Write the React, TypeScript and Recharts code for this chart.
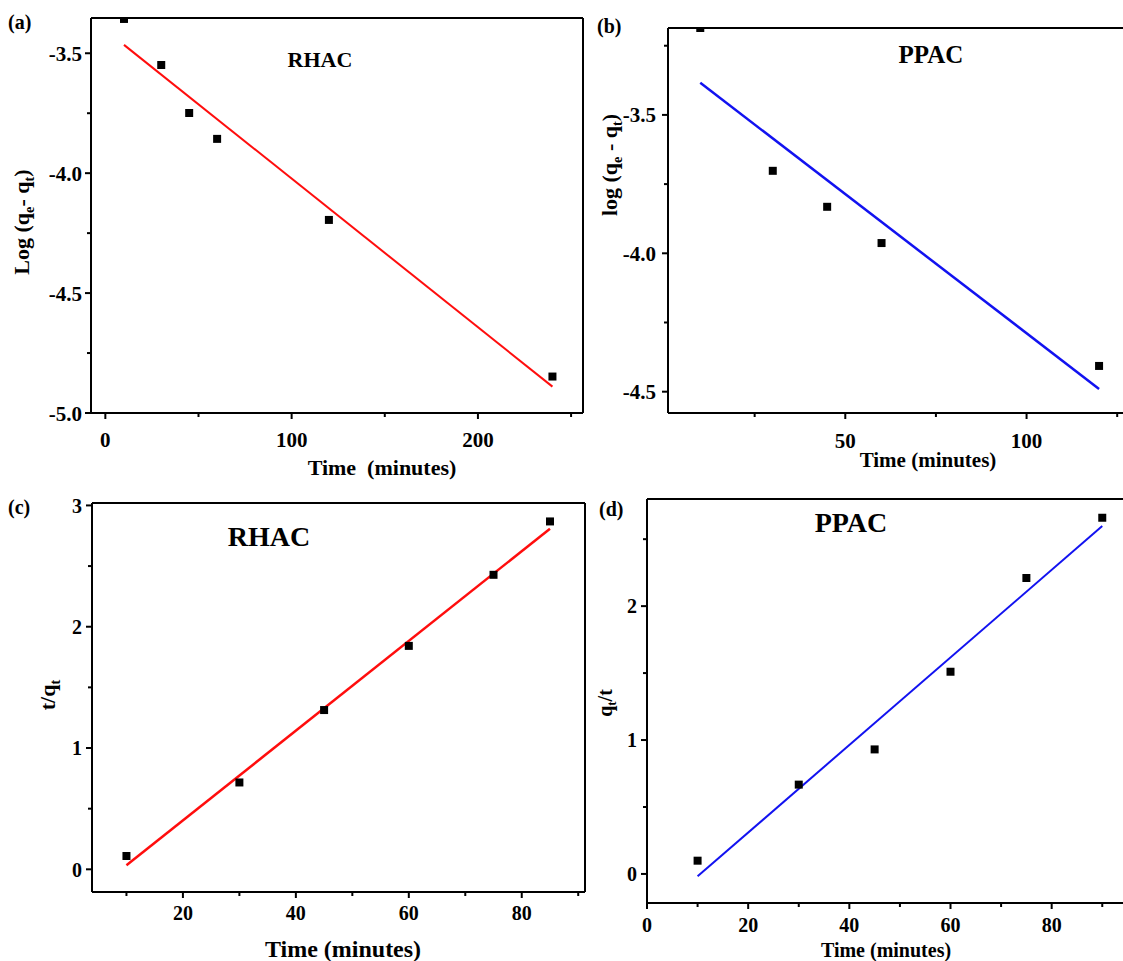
import React from 'react';
import { ScatterChart, Scatter, XAxis, YAxis, ReferenceLine } from 'recharts';

const FONT = '"Liberation Serif", "Times New Roman", serif';

// ---------- Panel (a): pseudo-first-order, RHAC ----------
const aTime = [10, 30, 45, 60, 120, 240];
const aLog = [-3.357, -3.549, -3.749, -3.857, -4.195, -4.848];
const aFitTime = [10, 240];
const aFitLog = [-3.465, -4.89];
const aXTicks = [0, 50, 100, 150, 200, 250];
const aXLabels = [0, 100, 200];
const aYTicks = [-3.5, -3.75, -4.0, -4.25, -4.5, -4.75, -5.0];
const aYLabels = [-3.5, -4.0, -4.5, -5.0];

// ---------- Panel (b): pseudo-first-order, PPAC ----------
const bTime = [10, 30, 45, 60, 120];
const bLog = [-3.186, -3.702, -3.832, -3.963, -4.407];
const bFitTime = [10, 120];
const bFitLog = [-3.384, -4.49];
const bXTicks = [25, 50, 75, 100, 125];
const bXLabels = [50, 100];
const bYTicks = [-3.25, -3.5, -3.75, -4.0, -4.25, -4.5];
const bYLabels = [-3.5, -4.0, -4.5];

// ---------- Panel (c): pseudo-second-order, RHAC ----------
const cTime = [10, 30, 45, 60, 75, 85];
const cVal = [0.11, 0.716, 1.313, 1.842, 2.428, 2.868];
const cFitTime = [10, 85];
const cFitVal = [0.033, 2.808];
const cXTicks = [10, 20, 30, 40, 50, 60, 70, 80, 90];
const cXLabels = [20, 40, 60, 80];
const cYTicks = [0, 0.5, 1, 1.5, 2, 2.5, 3];
const cYLabels = [0, 1, 2, 3];

// ---------- Panel (d): pseudo-second-order, PPAC ----------
const dTime = [10, 30, 45, 60, 75, 90];
const dVal = [0.099, 0.667, 0.93, 1.51, 2.21, 2.66];
const dFitTime = [10, 90];
const dFitVal = [-0.018, 2.598];
const dXTicks = [0, 10, 20, 30, 40, 50, 60, 70, 80, 90];
const dXLabels = [0, 20, 40, 60, 80];
const dYTicks = [0, 0.5, 1, 1.5, 2, 2.5];
const dYLabels = [0, 1, 2];

const zip = (xs: number[], ys: number[]) => xs.map((x, i) => ({ x, y: ys[i] }));

type PanelProps = {
  L: number; T: number; R: number; B: number;
  yAxisW: number; xAxisH: number;
  xDomain: [number, number]; yDomain: [number, number];
  xTicks: number[]; xLabels: number[]; yTicks: number[]; yLabels: number[];
  fmtX: (v: number) => string; fmtY: (v: number) => string;
  pts: { x: number; y: number }[]; fit: { x: number; y: number }[];
  color: string; lineW: number; fs: number; xGap: number; yGap: number;
  rightBorder: boolean; rightTicks?: number[];
};

const near = (arr: number[], v: number) => arr.some((a) => Math.abs(a - v) < 1e-9);

function Panel(p: PanelProps) {
  const mt = 10;
  const mr = p.rightBorder ? 10 : 0;
  const boxW = p.R - p.L;
  const boxH = p.B - p.T;
  const width = p.yAxisW + boxW + mr;
  const height = mt + boxH + p.xAxisH;

  const xTick = (props: any) => {
    const { x, y, payload } = props;
    const major = near(p.xLabels, payload.value);
    const len = major ? 6 : 4;
    return (
      <g>
        <line x1={x} x2={x} y1={y} y2={y + len} stroke="#000" strokeWidth={2} />
        {major && (
          <text x={x} y={y + p.xGap} textAnchor="middle" fontFamily={FONT} fontWeight="bold" fontSize={p.fs} fill="#000">
            {p.fmtX(payload.value)}
          </text>
        )}
      </g>
    );
  };
  const yTick = (props: any) => {
    const { x, y, payload } = props;
    const major = near(p.yLabels, payload.value);
    const len = major ? 6 : 4;
    return (
      <g>
        <line x1={x} x2={x - len} y1={y} y2={y} stroke="#000" strokeWidth={2} />
        {major && (
          <text x={x - p.yGap} y={y} dy="0.36em" textAnchor="end" fontFamily={FONT} fontWeight="bold" fontSize={p.fs} fill="#000">
            {p.fmtY(payload.value)}
          </text>
        )}
      </g>
    );
  };
  const rTick = (props: any) => {
    const { x, y } = props;
    return <line x1={x} x2={x - 4} y1={y} y2={y} stroke="#000" strokeWidth={2} />;
  };

  return (
    <div style={{ position: 'absolute', left: p.L - p.yAxisW, top: p.T - mt, width, height }}>
      <ScatterChart width={width} height={height} margin={{ top: mt, right: mr, bottom: 0, left: 0 }}>
        <XAxis
          type="number"
          dataKey="x"
          domain={p.xDomain}
          allowDataOverflow
          ticks={p.xTicks}
          interval={0}
          tickSize={0}
          tickMargin={0}
          tickLine={false}
          tick={xTick}
          height={p.xAxisH}
          axisLine={{ stroke: '#000', strokeWidth: 2 }}
        />
        <YAxis
          type="number"
          dataKey="y"
          domain={p.yDomain}
          allowDataOverflow
          ticks={p.yTicks}
          interval={0}
          tickSize={0}
          tickMargin={0}
          tickLine={false}
          tick={yTick}
          width={p.yAxisW}
          axisLine={{ stroke: '#000', strokeWidth: 2 }}
        />
        {p.rightTicks && (
          <YAxis
            yAxisId="right"
            orientation="right"
            type="number"
            dataKey="y"
            domain={p.yDomain}
            allowDataOverflow
            ticks={p.rightTicks}
            interval={0}
            tickSize={0}
            tickMargin={0}
            tickLine={false}
            tick={rTick}
            width={0}
            axisLine={false}
          />
        )}
        <ReferenceLine y={p.yDomain[1]} stroke="#000" strokeWidth={2} ifOverflow="visible" />
        {p.rightBorder && (
          <ReferenceLine x={p.xDomain[1]} stroke="#000" strokeWidth={2} ifOverflow="visible" />
        )}
        <Scatter
          data={p.fit}
          line={{ stroke: p.color, strokeWidth: p.lineW }}
          shape={() => <g />}
          isAnimationActive={false}
          legendType="none"
        />
        <Scatter data={p.pts} shape="square" fill="#000" isAnimationActive={false} legendType="none" />
      </ScatterChart>
    </div>
  );
}

const f1 = (v: number) => v.toFixed(1);
const f0 = (v: number) => String(v);

const Sub = ({ children, fs }: { children: string; fs: number }) => (
  <tspan dy={fs * 0.22} fontSize={fs * 0.65}>{children}</tspan>
);

export default function App() {
  return (
    <div style={{ position: 'absolute', left: 0, top: 0, width: 1123, height: 961, background: '#fff', overflow: 'hidden' }}>
      <Panel
        L={91} T={18} R={583} B={413} yAxisW={91} xAxisH={50}
        xDomain={[-7.7, 256.4]} yDomain={[-5.0, -3.353]}
        xTicks={aXTicks} xLabels={aXLabels} yTicks={aYTicks} yLabels={aYLabels}
        fmtX={f0} fmtY={f1}
        pts={zip(aTime, aLog)} fit={zip(aFitTime, aFitLog)}
        color="#ff0d0d" lineW={2} fs={21} xGap={34} yGap={9} rightBorder={true}
      />
      <Panel
        L={668} T={28} R={1123} B={413} yAxisW={70} xAxisH={50}
        xDomain={[1.1, 126.6]} yDomain={[-4.577, -3.186]}
        xTicks={bXTicks} xLabels={bXLabels} yTicks={bYTicks} yLabels={bYLabels}
        fmtX={f0} fmtY={f1}
        pts={zip(bTime, bLog)} fit={zip(bFitTime, bFitLog)}
        color="#1212f0" lineW={2.5} fs={21} xGap={35} yGap={12} rightBorder={false}
      />
      <Panel
        L={92} T={503} R={585} B={892} yAxisW={70} xAxisH={40}
        xDomain={[3.9, 91.2]} yDomain={[-0.187, 3.02]}
        xTicks={cXTicks} xLabels={cXLabels} yTicks={cYTicks} yLabels={cYLabels}
        fmtX={f0} fmtY={f0}
        pts={zip(cTime, cVal)} fit={zip(cFitTime, cFitVal)}
        color="#ff0d0d" lineW={2.5} fs={20} xGap={28} yGap={10} rightBorder={true}
        rightTicks={[0.5, 1.5, 2.5]}
      />
      <Panel
        L={647} T={499} R={1123} B={903} yAxisW={60} xAxisH={40}
        xDomain={[0, 94.1]} yDomain={[-0.217, 2.8]}
        xTicks={dXTicks} xLabels={dXLabels} yTicks={dYTicks} yLabels={dYLabels}
        fmtX={f0} fmtY={f0}
        pts={zip(dTime, dVal)} fit={zip(dFitTime, dFitVal)}
        color="#1212f0" lineW={2} fs={20} xGap={29} yGap={10} rightBorder={false}
      />

      <svg width={1123} height={961} style={{ position: 'absolute', left: 0, top: 0, pointerEvents: 'none' }}>
        <g fontFamily={FONT} fontWeight="bold" fill="#000">
          {/* panel letters */}
          <text x={8} y={29} fontSize={20}>(a)</text>
          <text x={597} y={33} fontSize={20}>(b)</text>
          <text x={8} y={514} fontSize={20}>(c)</text>
          <text x={599} y={516} fontSize={20}>(d)</text>

          {/* titles */}
          <text x={320} y={67} fontSize={22} textAnchor="middle">RHAC</text>
          <text x={931} y={63} fontSize={25} textAnchor="middle">PPAC</text>
          <text x={269} y={546} fontSize={28} textAnchor="middle">RHAC</text>
          <text x={851} y={532} fontSize={28} textAnchor="middle">PPAC</text>

          {/* x-axis titles */}
          <text x={382} y={475} fontSize={22} textAnchor="middle" style={{ whiteSpace: 'pre' }}>Time  (minutes)</text>
          <text x={928} y={467} fontSize={21} textAnchor="middle">Time (minutes)</text>
          <text x={343} y={957} fontSize={24} textAnchor="middle">Time (minutes)</text>
          <text x={886} y={957} fontSize={20} textAnchor="middle">Time (minutes)</text>

          {/* y-axis titles */}
          <text transform="translate(29,222) rotate(-90)" fontSize={22} textAnchor="middle">
            Log (q<Sub fs={22}>e</Sub><tspan dy={-22 * 0.22}>- q</tspan><Sub fs={22}>t</Sub><tspan dy={-22 * 0.22}>)</tspan>
          </text>
          <text transform="translate(617,165) rotate(-90)" fontSize={22} textAnchor="middle">
            log (q<Sub fs={22}>e</Sub><tspan dy={-22 * 0.22}> - q</tspan><Sub fs={22}>t</Sub><tspan dy={-22 * 0.22}>)</tspan>
          </text>
          <text transform="translate(55,695) rotate(-90)" fontSize={22} textAnchor="middle">
            t/q<Sub fs={22}>t</Sub>
          </text>
          <text transform="translate(612,703) rotate(-90)" fontSize={20} textAnchor="middle">
            q<Sub fs={20}>t</Sub><tspan dy={-20 * 0.22}>/t</tspan>
          </text>
        </g>
      </svg>
    </div>
  );
}
